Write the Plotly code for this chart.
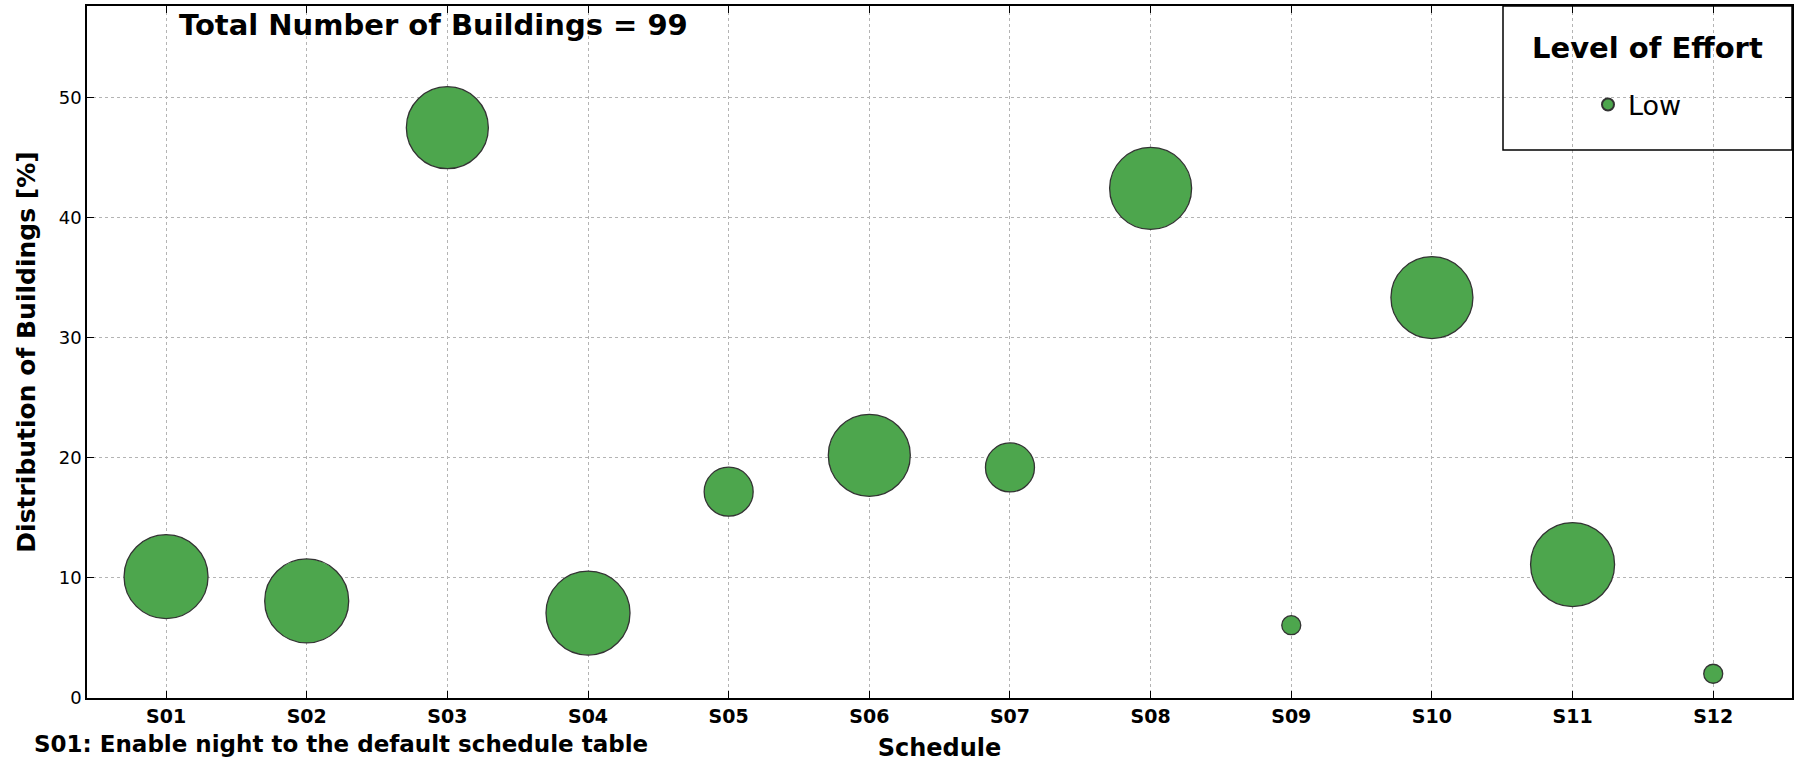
import plotly.graph_objects as go

schedules = ["S01", "S02", "S03", "S04", "S05", "S06", "S07", "S08", "S09", "S10", "S11", "S12"]
distribution = [10.1, 8.08, 47.47, 7.07, 17.17, 20.2, 19.19, 42.42, 6.06, 33.33, 11.11, 2.02]
bubble_size = [84, 84, 82, 84, 49, 82, 49, 82, 19, 82, 84, 19]
y_ticks = [0, 10, 20, 30, 40, 50]

L, R, T, B = 87, 6, 6, 64
W, H = 1798, 762
pw, ph = W - L - R, H - T - B

def px_x(v):
    return (v - L) / pw

def px_y(v):
    return (H - B - v) / ph

fig = go.Figure()
fig.add_trace(go.Scatter(
    x=schedules, y=distribution, mode="markers", name="Low",
    marker=dict(size=bubble_size, color="#4da64d", opacity=1,
                line=dict(color="#333333", width=1.3)),
))

grid = dict(showgrid=True, gridcolor="#b4b4b4", griddash="3px,3px", gridwidth=1)

fig.update_layout(
    width=W, height=H,
    margin=dict(l=L, r=R, t=T, b=B, autoexpand=False),
    paper_bgcolor="white", plot_bgcolor="white",
    font=dict(family="DejaVu Sans", color="black"),
    showlegend=True,
    legend=dict(
        x=px_x(1588), y=px_y(105), xanchor="left", yanchor="middle",
        bgcolor="rgba(0,0,0,0)", borderwidth=0,
        font=dict(size=27, family="DejaVu Sans"),
        itemsizing="constant",
    ),
    xaxis=dict(
        type="category", range=[-0.562, 11.56], automargin=False,
        showline=True, linecolor="black", linewidth=1.5, mirror="ticks",
        ticks="inside", ticklen=7, tickcolor="black", tickwidth=1,
        tickfont=dict(size=19, family="DejaVu Sans", weight="bold"),
        title=dict(text="<b>Schedule</b>", font=dict(size=24), standoff=15),
        **grid,
    ),
    yaxis=dict(
        range=[0, 57.6], tickvals=y_ticks, automargin=False,
        showline=True, linecolor="black", linewidth=1.5, mirror="ticks",
        ticks="inside", ticklen=7, tickcolor="black", tickwidth=1,
        zeroline=False,
        tickfont=dict(size=18, family="DejaVu Sans"),
        title=dict(text="<b>Distribution of Buildings [%]</b>", font=dict(size=25), standoff=16),
        **grid,
    ),
    shapes=[
        dict(type="rect", xref="paper", yref="paper", layer="above",
             x0=px_x(1503), x1=1.0, y0=px_y(150), y1=1.0,
             line=dict(color="black", width=1.5), fillcolor="rgba(0,0,0,0)"),
    ],
    annotations=[
        dict(text="<b>Total Number of Buildings = 99</b>", xref="paper", yref="paper",
             x=px_x(177), y=px_y(25), xanchor="left", yanchor="middle", showarrow=False,
             font=dict(size=29, family="DejaVu Sans")),
        dict(text="<b>Level of Effort</b>", xref="paper", yref="paper",
             x=px_x(1647), y=px_y(48), xanchor="center", yanchor="middle", showarrow=False,
             font=dict(size=29, family="DejaVu Sans")),
        dict(text="<b>S01: Enable night to the default schedule table</b>", xref="paper", yref="paper",
             x=px_x(32), y=px_y(729), xanchor="left", yanchor="top", showarrow=False,
             font=dict(size=23, family="DejaVu Sans")),
    ],
)
fig.write_html(
    "out.html",
    config={"displayModeBar": False},
    post_script="document.body.style.margin='0';document.body.style.overflow='hidden';",
)
